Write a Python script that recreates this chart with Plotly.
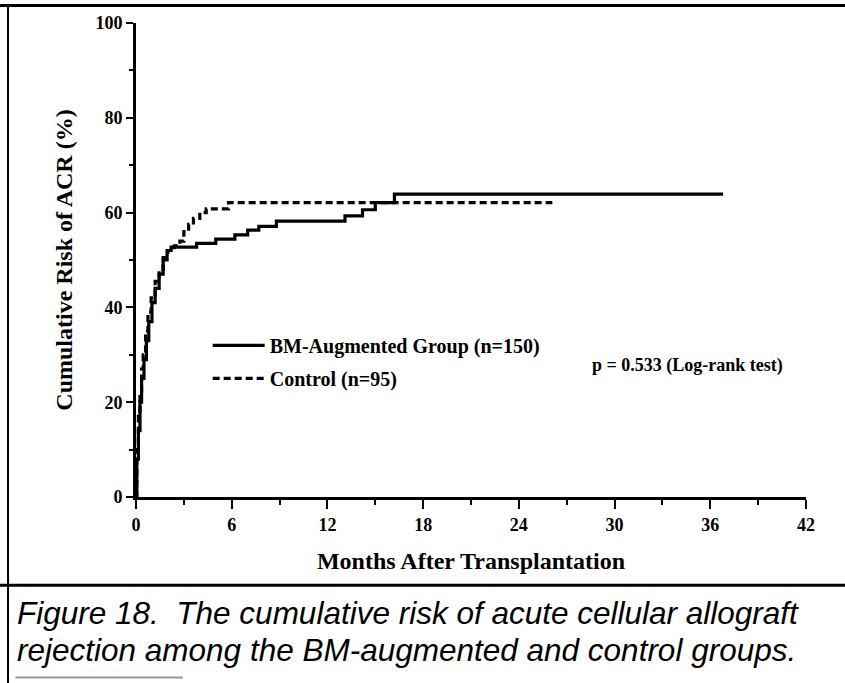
import plotly.graph_objects as go

# BM-augmented group (n=150): Kaplan-Meier step estimates (months, cumulative %)
bm_months = [0, 0.05, 0.15, 0.25, 0.35, 0.5, 0.65, 0.8, 1.0, 1.2, 1.45, 1.7, 1.95, 2.2,
             3.8, 5.0, 6.2, 7.0, 7.7, 8.8, 13.1, 14.2, 15.0, 16.2, 36.8]
bm_risk = [0, 8, 14, 20, 25, 29, 33, 37, 41, 44, 47, 50, 52, 52.7,
           53.5, 54.4, 55.3, 56.3, 57.1, 58.2, 59.3, 60.6, 62.1, 63.9, 63.9]

# Control group (n=95)
ctl_months = [0, 0.05, 0.15, 0.25, 0.35, 0.45, 0.6, 0.75, 0.95, 1.2, 1.45, 1.7, 2.0, 2.4,
              2.75, 3.0, 3.3, 3.6, 4.0, 4.4, 5.8, 26.1]
ctl_risk = [0, 10, 17, 22, 27, 30, 35, 39, 42, 45.5, 48, 50.5, 52, 53,
            54, 56, 57.5, 58.8, 60, 60.8, 62.1, 62.1]

x_ticks = [0, 6, 12, 18, 24, 30, 36, 42]
y_ticks = [0, 20, 40, 60, 80, 100]

caption_lines = ["Figure 18.  The cumulative risk of acute cellular allograft",
                 "rejection among the BM-augmented and control groups."]

serif = "Liberation Serif, Times New Roman, serif"

fig = go.Figure()
fig.add_trace(go.Scatter(x=bm_months, y=bm_risk, mode="lines", line_shape="hv",
                         name="BM-Augmented Group (n=150)", legendgroup="a",
                         line=dict(color="black", width=3.2)))
fig.add_trace(go.Scatter(x=ctl_months, y=ctl_risk, mode="lines", line_shape="hv",
                         name="Control (n=95)", legendgroup="b",
                         line=dict(color="black", width=3.2, dash="7px,4px")))

fig.update_layout(
    width=845, height=683,
    margin=dict(l=136, r=39, t=23, b=186),
    paper_bgcolor="white", plot_bgcolor="white",
    font=dict(family=serif, color="black", size=15),
    showlegend=True,
    legend=dict(x=0.107, y=0.285, xanchor="left", yanchor="middle",
                bgcolor="rgba(0,0,0,0)", itemwidth=52, tracegroupgap=4,
                traceorder="grouped",
                font=dict(family=serif, size=20, color="black", weight="bold")),
    xaxis=dict(range=[0, 42], tickvals=x_ticks, ticktext=[str(v) for v in x_ticks],
               showgrid=False, zeroline=False, showline=True, linecolor="black", linewidth=3,
               ticks="outside", ticklen=9, tickwidth=2, tickcolor="black",
               minor=dict(dtick=3, ticks="outside", ticklen=5, tickwidth=2, tickcolor="black"),
               tickfont=dict(family=serif, size=18, weight="bold"),
               title=dict(text="Months After Transplantation", standoff=19,
                          font=dict(family=serif, size=24, weight="bold"))),
    yaxis=dict(range=[0, 100], tickvals=y_ticks, ticktext=[str(v) for v in y_ticks],
               showgrid=False, zeroline=False, showline=True, linecolor="black", linewidth=3,
               ticks="outside", ticklen=7, tickwidth=2, tickcolor="black",
               minor=dict(dtick=10, ticks="outside", ticklen=4, tickwidth=2, tickcolor="black"),
               tickfont=dict(family=serif, size=18, weight="bold"),
               title=dict(text="Cumulative Risk of ACR (%)", standoff=17,
                          font=dict(family=serif, size=24, weight="bold"))),
)

fig.add_annotation(x=0.678, y=0.278, xref="paper", yref="paper", xanchor="left", yanchor="middle",
                   text="<b>p = 0.533 (Log-rank test)</b>", showarrow=False,
                   font=dict(family=serif, size=18, color="black"))

for line_text, ypos in zip(caption_lines, [-0.2447, -0.3228]):
    fig.add_annotation(x=-0.181, y=ypos, xref="paper", yref="paper", xanchor="left",
                       yanchor="middle", align="left", showarrow=False,
                       text="<i>" + line_text + "</i>",
                       font=dict(family="Liberation Sans, Arial, sans-serif", size=31.5,
                                 color="black"))

# page frame lines
frame = dict(color="black", width=3)
fig.add_shape(type="line", xref="paper", yref="paper", x0=-0.21, x1=1.06, y0=1.037, y1=1.037, line=frame)
fig.add_shape(type="line", xref="paper", yref="paper", x0=-0.191, x1=-0.191, y0=1.04, y1=-0.40,
              line=dict(color="black", width=2))
fig.add_shape(type="line", xref="paper", yref="paper", x0=-0.21, x1=1.06, y0=-0.186, y1=-0.186, line=frame)
fig.add_shape(type="line", xref="paper", yref="paper", x0=-0.18, x1=0.07, y0=-0.381, y1=-0.381,
              line=dict(color="#999999", width=2))

fig.write_html("out.html", config={"displayModeBar": False},
               post_script="document.body.style.margin='0';document.body.style.overflow='hidden';")
